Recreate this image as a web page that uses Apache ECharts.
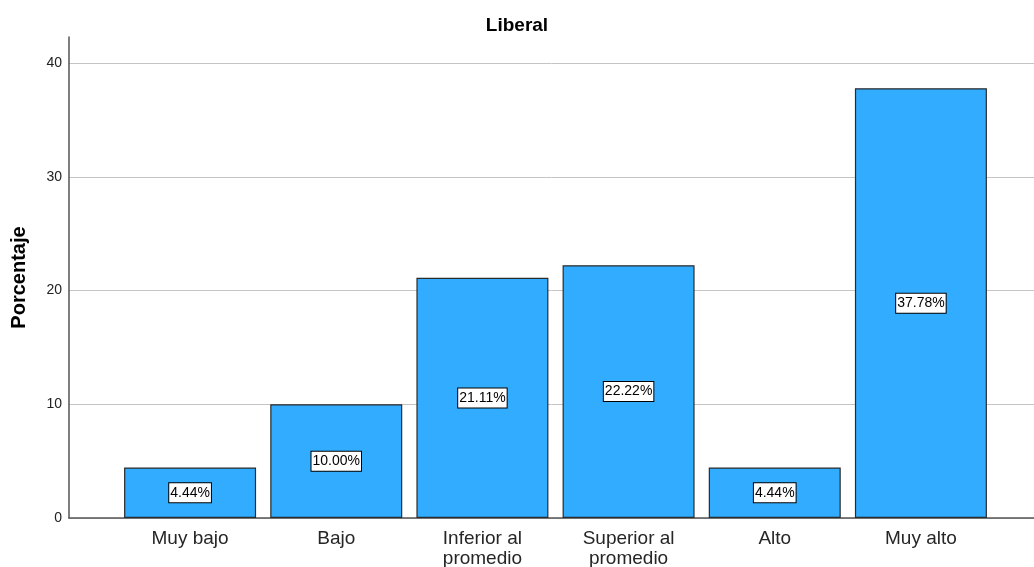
<!DOCTYPE html>
<html>
<head>
<meta charset="utf-8">
<script src="https://cdn.jsdelivr.net/npm/echarts@6/dist/echarts.min.js"></script>
<style>
  html, body { margin: 0; padding: 0; background: #fff; }
  #chart { width: 1034px; height: 567px; }
</style>
</head>
<body>
<div id="chart"></div>
<script>
// Percentage of respondents per level
const categories = ['Muy bajo', 'Bajo', 'Inferior al\npromedio', 'Superior al\npromedio', 'Alto', 'Muy alto'];
const percentages = [4.44, 10.00, 21.11, 22.22, 4.44, 37.78];
const yTicks = [0, 10, 20, 30, 40];

const FONT = '"Liberation Sans", Arial, sans-serif';
const yMax = yTicks[yTicks.length - 1];
const pxPerUnit = 455 / yMax;        // plot height for the tick range
const axisTop = 37;                  // axis line runs a little past the last tick
const axisMax = yMax + (63 - axisTop) / pxPerUnit;

const chart = echarts.init(document.getElementById('chart'), null, { renderer: 'canvas' });

chart.setOption({
  animation: false,
  backgroundColor: '#ffffff',
  title: {
    text: 'Liberal',
    left: 'center',
    top: 11,
    textStyle: { fontFamily: FONT, fontSize: 19, fontWeight: 'bold', color: '#000' }
  },
  grid: [
    // axis line and y title
    { left: 69, right: 0, top: axisTop, bottom: 49, outerBoundsMode: 'none', containLabel: false },
    // gridlines, tick labels, baseline
    { left: 69, right: 0, top: 63, bottom: 49, outerBoundsMode: 'none', containLabel: false },
    // bars
    { left: 117, right: 40, top: 63, bottom: 49, outerBoundsMode: 'none', containLabel: false }
  ],
  xAxis: [
    { gridIndex: 0, type: 'category', data: categories, show: false },
    {
      gridIndex: 1, type: 'category', data: categories,
      axisLine: { show: true, lineStyle: { color: '#555', width: 1.5 } },
      axisTick: { show: false }, axisLabel: { show: false }, splitLine: { show: false }
    },
    {
      gridIndex: 2, type: 'category', data: categories,
      axisLine: { show: false }, axisTick: { show: false },
      axisLabel: {
        interval: 0, margin: 11, color: '#262626',
        fontFamily: FONT, fontSize: 19, lineHeight: 20
      }
    }
  ],
  yAxis: [
    {
      gridIndex: 0, type: 'value', min: 0, max: axisMax,
      name: 'Porcentaje', nameLocation: 'middle', nameGap: 40,
      nameTextStyle: { fontFamily: FONT, fontSize: 20, fontWeight: 'bold', color: '#000' },
      axisLine: { show: true, lineStyle: { color: '#555', width: 1.5 } },
      axisTick: { show: false }, axisLabel: { show: false }, splitLine: { show: false }
    },
    {
      gridIndex: 1, type: 'value', min: yTicks[0], max: yMax, interval: 10,
      axisLine: { show: false }, axisTick: { show: false },
      axisLabel: { color: '#222', fontFamily: FONT, fontSize: 14, margin: 7 },
      splitLine: { show: true, lineStyle: { color: '#c4c4c4', width: 1 } }
    },
    {
      gridIndex: 2, type: 'value', min: yTicks[0], max: yMax, show: false
    }
  ],
  series: [{
    type: 'bar',
    xAxisIndex: 2,
    yAxisIndex: 2,
    data: percentages,
    barWidth: 132,
    itemStyle: { color: '#31acff', borderColor: '#2b2b2b', borderWidth: 1.2 },
    label: {
      show: true,
      position: 'inside',
      formatter: p => p.value.toFixed(2) + '%',
      fontFamily: FONT,
      fontSize: 14,
      color: '#000',
      backgroundColor: '#fff',
      borderColor: '#000',
      borderWidth: 1,
      padding: [3, 1, 2, 1]
    }
  }]
});
</script>
</body>
</html>
